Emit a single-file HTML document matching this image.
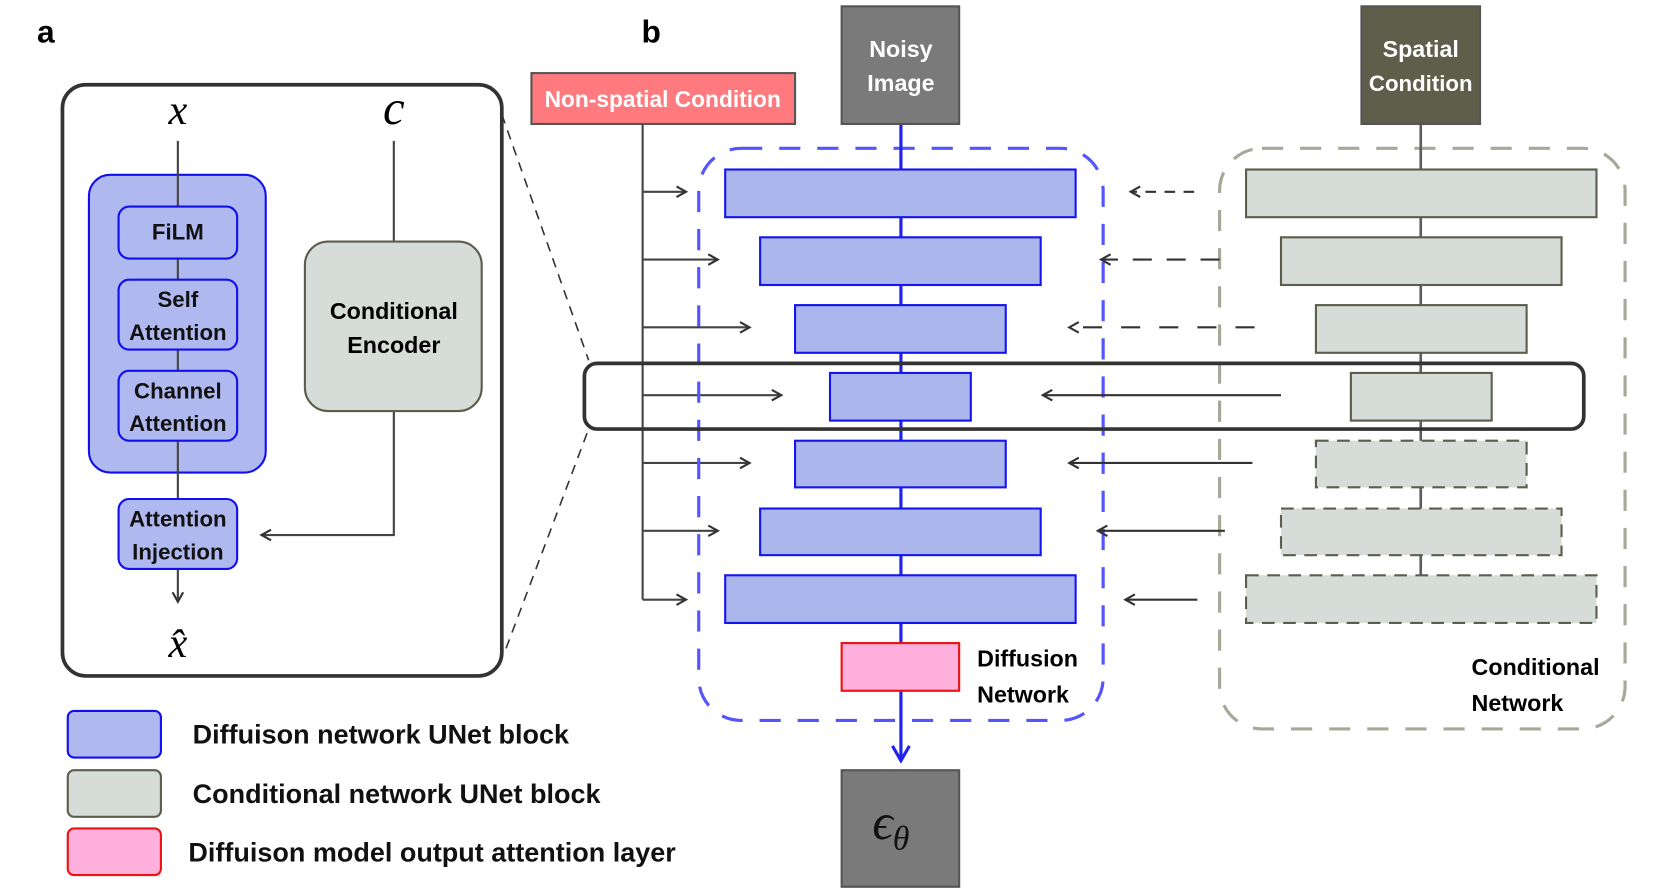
<!DOCTYPE html>
<html><head><meta charset="utf-8"><style>html,body{margin:0;padding:0;background:#fff}svg{display:block}</style></head><body>
<svg width="1660" height="891" viewBox="0 0 1568 841" preserveAspectRatio="none" xmlns="http://www.w3.org/2000/svg" font-family="Liberation Sans, sans-serif">
<defs>
<marker id="ah" markerWidth="12" markerHeight="12" refX="10" refY="6" orient="auto" markerUnits="userSpaceOnUse"><path d="M1,1 L10,6 L1,11" fill="none" stroke="#333" stroke-width="2"/></marker>
<marker id="ab" markerWidth="20" markerHeight="24" refX="10" refY="22" orient="0" markerUnits="userSpaceOnUse"><path d="M2,8 L10,22 L18,8" fill="none" stroke="#2222ee" stroke-width="3"/></marker>
</defs>
<text x="35" y="40" font-size="30" font-weight="bold">a</text>
<text x="606" y="40" font-size="30" font-weight="bold">b</text>
<!-- panel a -->
<rect x="59" y="80" width="415" height="558" rx="22" fill="none" stroke="#333" stroke-width="3.5"/>
<line x1="474" y1="108" x2="556" y2="340" stroke="#333" stroke-width="1.5" stroke-dasharray="9,7"/>
<line x1="478" y1="612" x2="556" y2="405" stroke="#333" stroke-width="1.5" stroke-dasharray="9,7"/>
<text x="168" y="117" font-size="40" font-style="italic" font-family="Liberation Serif, serif" text-anchor="middle">x</text>
<text x="372" y="117" font-size="46" font-style="italic" font-family="Liberation Serif, serif" text-anchor="middle">c</text>
<rect x="84" y="165" width="167" height="281" rx="20" fill="#b0b8f0" stroke="#1010ee" stroke-width="2"/>
<line x1="168" y1="133" x2="168" y2="568" stroke="#444" stroke-width="2" marker-end="url(#ah)"/>
<g fill="#b0b8f0" stroke="#1010ee" stroke-width="2">
<rect x="112" y="195" width="112" height="49" rx="10"/>
<rect x="112" y="264" width="112" height="66" rx="10"/>
<rect x="112" y="350" width="112" height="66" rx="10"/>
<rect x="112" y="471" width="112" height="66" rx="10"/>
</g>
<g font-size="21" font-weight="bold" text-anchor="middle" fill="#111">
<text x="168" y="226">FiLM</text>
<text x="168" y="290">Self</text><text x="168" y="321">Attention</text>
<text x="168" y="376">Channel</text><text x="168" y="407">Attention</text>
<text x="168" y="497">Attention</text><text x="168" y="528">Injection</text>
</g>
<polyline points="372,133 372,228" fill="none" stroke="#444" stroke-width="2"/>
<polyline points="372,388 372,505 247,505" fill="none" stroke="#444" stroke-width="2" marker-end="url(#ah)"/>
<rect x="288" y="228" width="167" height="160" rx="22" fill="#d6dcd7" stroke="#5d5d4d" stroke-width="2"/>
<text x="372" y="301" font-size="22" font-weight="bold" text-anchor="middle">Conditional</text>
<text x="372" y="333" font-size="22" font-weight="bold" text-anchor="middle">Encoder</text>
<text x="168" y="620" font-size="40" font-style="italic" font-family="Liberation Serif, serif" text-anchor="middle">x̂</text>
<!-- legend -->
<rect x="64" y="671" width="88" height="44" rx="6" fill="#b0b8f0" stroke="#1010ee" stroke-width="2"/>
<rect x="64" y="727" width="88" height="44" rx="6" fill="#d6dcd7" stroke="#5d5d4d" stroke-width="2"/>
<rect x="64" y="782" width="88" height="44" rx="6" fill="#ffb0dd" stroke="#ee1111" stroke-width="2"/>
<g font-size="25.5" font-weight="bold" fill="#111">
<text x="182" y="702">Diffuison network UNet block</text>
<text x="182" y="758">Conditional network UNet block</text>
<text x="178" y="813">Diffuison model output attention layer</text>
</g>
<!-- panel b -->
<rect x="502" y="69" width="249" height="48" fill="#ff7a7e" stroke="#555" stroke-width="2"/>
<text x="626" y="101" font-size="21.5" font-weight="bold" fill="#fff" text-anchor="middle">Non-spatial Condition</text>
<line x1="607" y1="117" x2="607" y2="566" stroke="#444" stroke-width="2"/>
<g stroke="#444" stroke-width="2" marker-end="url(#ah)">
<line x1="607" y1="181" x2="648" y2="181"/>
<line x1="607" y1="245" x2="678" y2="245"/>
<line x1="607" y1="309" x2="708" y2="309"/>
<line x1="607" y1="373" x2="738" y2="373"/>
<line x1="607" y1="437" x2="708" y2="437"/>
<line x1="607" y1="501" x2="678" y2="501"/>
<line x1="607" y1="566" x2="648" y2="566"/>
</g>
<rect x="660" y="140" width="382" height="540" rx="40" fill="none" stroke="#5555ff" stroke-width="3" stroke-dasharray="20,16"/>
<rect x="1152" y="140" width="383" height="548" rx="40" fill="none" stroke="#a8a898" stroke-width="3" stroke-dasharray="20,16"/>
<line x1="851" y1="117" x2="851" y2="718" stroke="#2222ee" stroke-width="3" marker-end="url(#ab)"/>
<line x1="1342" y1="117" x2="1342" y2="543" stroke="#5d5d5d" stroke-width="2.5"/>
<rect x="795" y="6" width="111" height="111" fill="#7a7a7a" stroke="#555" stroke-width="2"/>
<text x="851" y="54" font-size="22" font-weight="bold" fill="#fff" text-anchor="middle">Noisy</text>
<text x="851" y="86" font-size="22" font-weight="bold" fill="#fff" text-anchor="middle">Image</text>
<rect x="1286" y="6" width="112" height="111" fill="#5e5e4a" stroke="#555" stroke-width="2"/>
<text x="1342" y="54" font-size="22" font-weight="bold" fill="#fff" text-anchor="middle">Spatial</text>
<text x="1342" y="86" font-size="21" font-weight="bold" fill="#fff" text-anchor="middle">Condition</text>
<g fill="#abb7ec" stroke="#1515ee" stroke-width="2">
<rect x="685" y="160" width="331" height="45"/>
<rect x="718" y="224" width="265" height="45"/>
<rect x="751" y="288" width="199" height="45"/>
<rect x="784" y="352" width="133" height="45"/>
<rect x="751" y="416" width="199" height="44"/>
<rect x="718" y="480" width="265" height="44"/>
<rect x="685" y="543" width="331" height="45"/>
</g>
<g fill="#d6dcd7" stroke="#5d5d4d" stroke-width="2">
<rect x="1177" y="160" width="331" height="45"/>
<rect x="1210" y="224" width="265" height="45"/>
<rect x="1243" y="288" width="199" height="45"/>
<rect x="1276" y="352" width="133" height="45"/>
</g>
<g fill="#d6dcd7" stroke="#5d5d4d" stroke-width="2" stroke-dasharray="12,8">
<rect x="1243" y="416" width="199" height="44"/>
<rect x="1210" y="480" width="265" height="44"/>
<rect x="1177" y="543" width="331" height="45"/>
</g>
<g stroke="#333" stroke-width="2" marker-end="url(#ah)">
<line x1="1128" y1="181" x2="1068" y2="181" stroke-dasharray="10,8"/>
<line x1="1152" y1="245" x2="1040" y2="245" stroke-dasharray="18,14"/>
<line x1="1185" y1="309" x2="1010" y2="309" stroke-dasharray="18,18"/>
<line x1="1210" y1="373" x2="985" y2="373"/>
<line x1="1183" y1="437" x2="1010" y2="437"/>
<line x1="1157" y1="501" x2="1037" y2="501"/>
<line x1="1131" y1="566" x2="1063" y2="566"/>
</g>
<rect x="552" y="343" width="944" height="62" rx="12" fill="none" stroke="#333" stroke-width="3.5"/>
<rect x="795" y="607" width="111" height="45" fill="#ffb0dd" stroke="#ee1111" stroke-width="2"/>
<text x="923" y="629" font-size="22" font-weight="bold">Diffusion</text>
<text x="923" y="663" font-size="22" font-weight="bold">Network</text>
<text x="1390" y="637" font-size="22" font-weight="bold">Conditional</text>
<text x="1390" y="671" font-size="22" font-weight="bold">Network</text>
<rect x="795" y="727" width="111" height="110" fill="#7a7a7a" stroke="#555" stroke-width="2"/>
<text x="824" y="792" font-size="48" font-style="italic" font-family="Liberation Serif, serif" fill="#111">ϵ<tspan font-size="32" dy="10">θ</tspan></text>
</svg>
</body></html>
